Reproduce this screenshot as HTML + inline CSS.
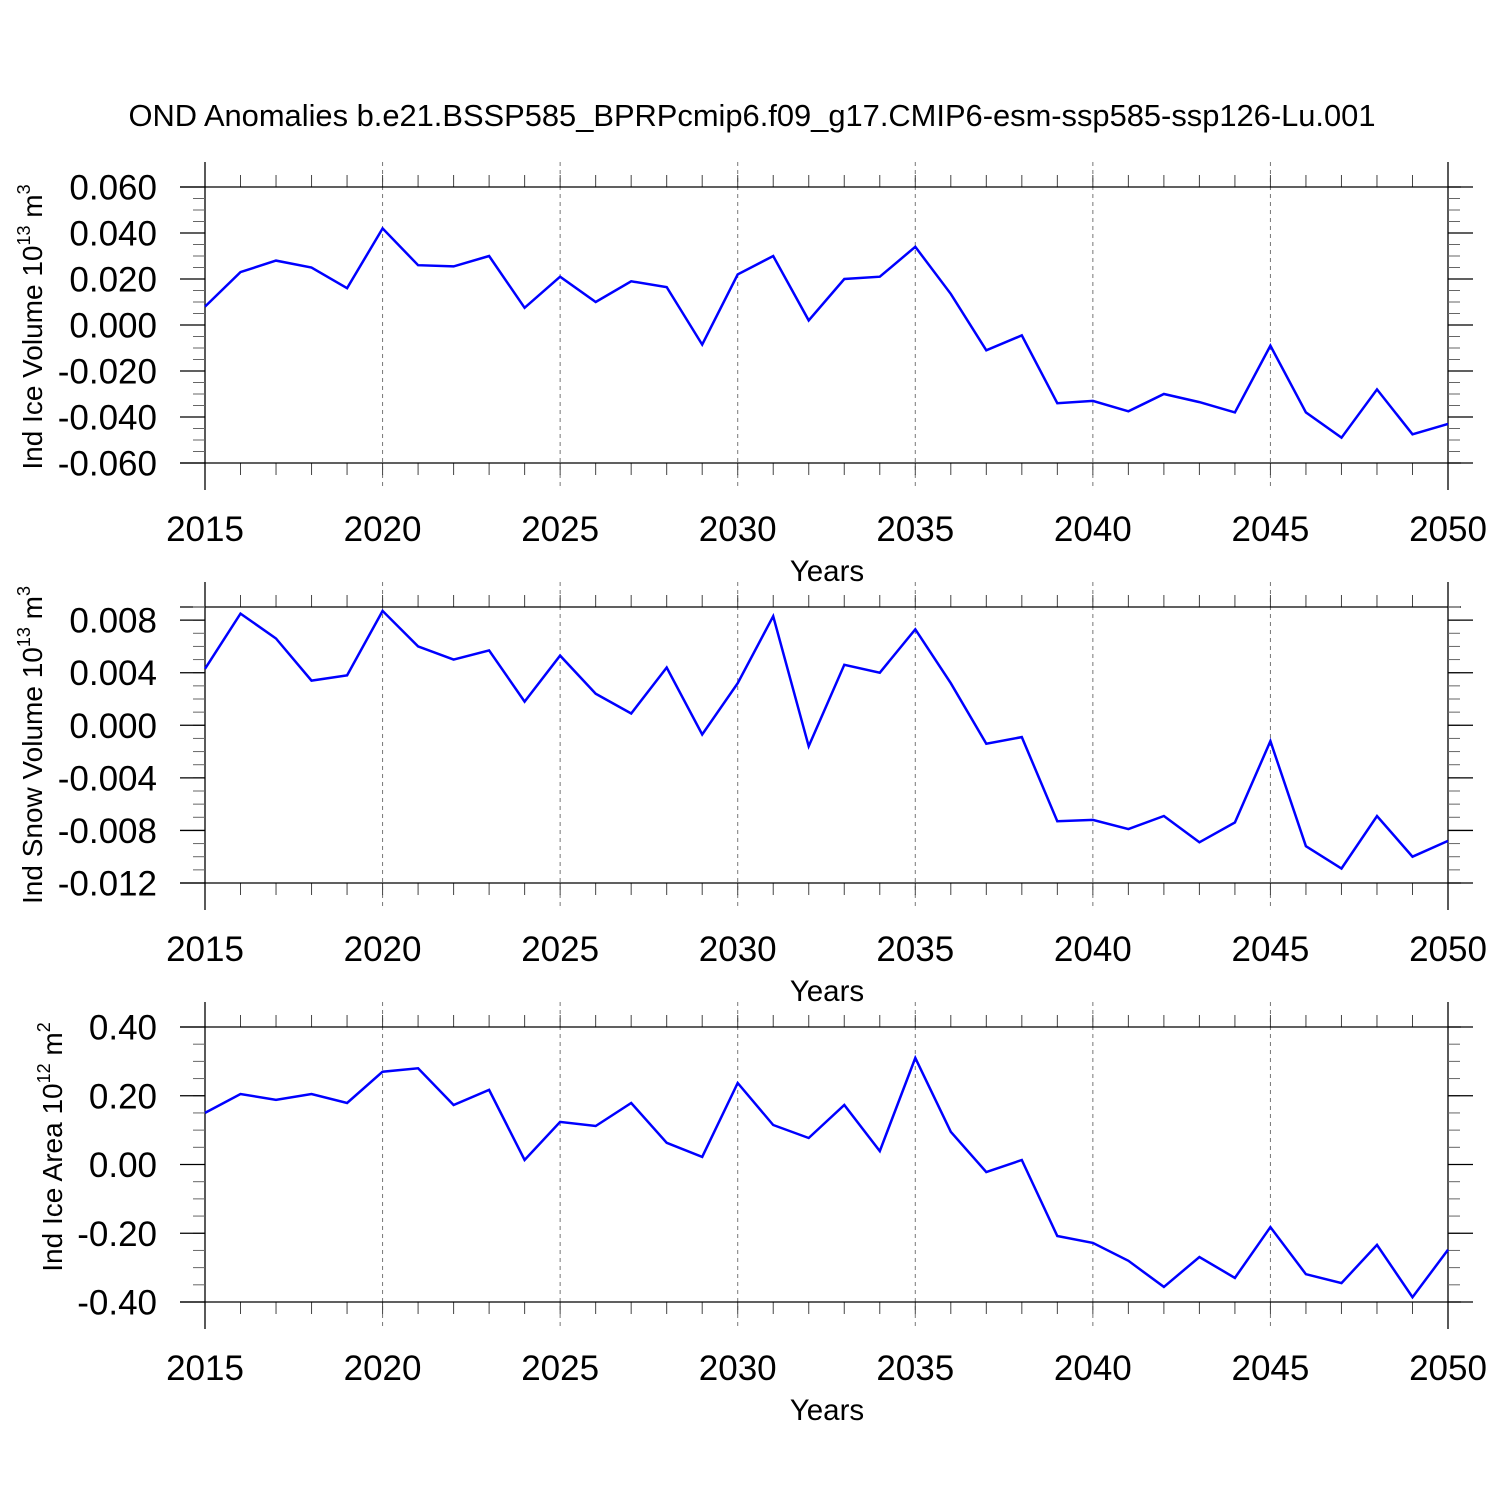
<!DOCTYPE html>
<html><head><meta charset="utf-8"><style>
html,body{margin:0;padding:0;background:#fff}
svg{display:block;font-family:"Liberation Sans",Arial,sans-serif}
</style></head><body>
<svg id="chart" width="1500" height="1500" viewBox="0 0 1500 1500" xmlns="http://www.w3.org/2000/svg">
<rect width="1500" height="1500" fill="#fff"/>
<text x="752" y="126" font-size="31" text-anchor="middle" textLength="1247" lengthAdjust="spacingAndGlyphs">OND Anomalies b.e21.BSSP585_BPRPcmip6.f09_g17.CMIP6-esm-ssp585-ssp126-Lu.001</text>
</svg>
<script>
const years = [];
for (let y = 2015; y <= 2050; y++) years.push(y);
const xTickLabels = ["2015","2020","2025","2030","2035","2040","2045","2050"];
const iceVolume = [0.008,0.023,0.028,0.025,0.016,0.042,0.026,0.0255,0.030,0.0075,0.021,0.010,0.019,0.0165,-0.0085,0.022,0.030,0.002,0.020,0.021,0.034,0.0135,-0.011,-0.0045,-0.034,-0.033,-0.0375,-0.030,-0.0335,-0.038,-0.009,-0.038,-0.049,-0.028,-0.0475,-0.043];
const snowVolume = [0.0043,0.0085,0.0066,0.0034,0.0038,0.0087,0.0060,0.0050,0.0057,0.0018,0.0053,0.0024,0.0009,0.0044,-0.0007,0.0032,0.0083,-0.0016,0.0046,0.0040,0.0073,0.0032,-0.0014,-0.0009,-0.0073,-0.0072,-0.0079,-0.0069,-0.0089,-0.0074,-0.0012,-0.0092,-0.0109,-0.0069,-0.0100,-0.0088];
const iceArea = [0.15,0.205,0.188,0.205,0.179,0.27,0.28,0.173,0.217,0.013,0.124,0.112,0.179,0.063,0.022,0.237,0.115,0.077,0.173,0.039,0.31,0.095,-0.022,0.013,-0.208,-0.228,-0.28,-0.356,-0.269,-0.33,-0.182,-0.319,-0.345,-0.234,-0.386,-0.248];
const iceVolTicks = ["0.060","0.040","0.020","0.000","-0.020","-0.040","-0.060"];
const snowTicks = ["0.008","0.004","0.000","-0.004","-0.008","-0.012"];
const areaTicks = ["0.40","0.20","0.00","-0.20","-0.40"];

const svg = document.getElementById('chart');
const NS = "http://www.w3.org/2000/svg";
function mk(tag, attrs, parent){ const e=document.createElementNS(NS,tag); for(const k in attrs) e.setAttribute(k,attrs[k]); (parent||svg).appendChild(e); return e; }
const X0=205, X1=1448;
function xs(yr){ return X0 + (yr-2015)/(2050-2015)*(X1-X0); }

function panel(p){
  const g = mk('g',{});
  
  
  const ys = v => p.top + (p.ymax - v)/(p.ymax - p.ymin)*(p.bot - p.top);
  for (let yr=2020; yr<2050; yr+=5){
    const l = mk('line',{x1:xs(yr),x2:xs(yr),y1:p.top-25,y2:p.bot+27,stroke:'#777','stroke-width':1,'stroke-dasharray':'4,4'},g);
    
    
  }
  years.forEach(yr=>{
    mk('line',{x1:xs(yr),x2:xs(yr),y1:p.top-12,y2:p.top,stroke:'#444','stroke-width':1},g);
    mk('line',{x1:xs(yr),x2:xs(yr),y1:p.bot,y2:p.bot+12,stroke:'#444','stroke-width':1},g);
  });
  mk('line',{x1:180,x2:1461,y1:p.top,y2:p.top,stroke:'#000','stroke-width':1.3},g);
  mk('line',{x1:180,x2:1461,y1:p.bot,y2:p.bot,stroke:'#000','stroke-width':1.3},g);
  mk('line',{x1:X0,x2:X0,y1:p.top-25,y2:p.bot+27,stroke:'#000','stroke-width':1.3},g);
  mk('line',{x1:X1,x2:X1,y1:p.top-25,y2:p.bot+27,stroke:'#000','stroke-width':1.3},g);
  const nMinor = Math.round((p.ymax-p.ymin)/p.minor);
  for (let i=0;i<=nMinor;i++){
    const v = p.ymin + i*p.minor;
    const y = ys(v);
    mk('line',{x1:X0-12,x2:X0,y1:y,y2:y,stroke:'#666','stroke-width':1},g);
    mk('line',{x1:X1,x2:X1+12,y1:y,y2:y,stroke:'#666','stroke-width':1},g);
  }
  p.ticks.forEach(t=>{
    const v=parseFloat(t), y=ys(v);
    mk('line',{x1:180,x2:X0,y1:y,y2:y,stroke:'#000','stroke-width':1.3},g);
    mk('line',{x1:X1,x2:1473,y1:y,y2:y,stroke:'#000','stroke-width':1.3},g);
    const tx = mk('text',{x:157,y:y+12.5,'font-size':35,'text-anchor':'end'},g);
    tx.textContent=t;
    
    
  });
  xTickLabels.forEach(t=>{
    const tx = mk('text',{x:xs(+t),y:p.bot+78,'font-size':35,'text-anchor':'middle'},g);
    tx.textContent=t;
    
    
  });
  const xt = mk('text',{x:827,y:p.bot+118,'font-size':29.5,'text-anchor':'middle'},g);
  xt.textContent='Years';
  
  
  const yt = mk('text',{x:0,y:0,'font-size':28,'text-anchor':'middle',transform:`translate(${p.ytx},${p.yty}) rotate(-90)`},g);
  
  
  yt.innerHTML = p.ylabel + ' 10<tspan dy="-12" font-size="18">'+p.exp+'</tspan><tspan dy="12"> m</tspan><tspan dy="-12" font-size="18">'+p.unit+'</tspan>';
  const pts = p.data.map((v,i)=>xs(years[i]).toFixed(1)+','+ys(v).toFixed(1)).join(' ');
  const pl = mk('polyline',{points:pts,fill:'none',stroke:'#0000ff','stroke-width':2.5,'stroke-linejoin':'miter'},g);
  
  
}
panel({name:'ice-volume-panel',top:187,bot:463,ymin:-0.06,ymax:0.06,minor:0.005,ticks:iceVolTicks,data:iceVolume,ylabel:'Ind Ice Volume',exp:'13',unit:'3',ytx:42,yty:327});
panel({name:'snow-volume-panel',top:607,bot:883,ymin:-0.012,ymax:0.009,minor:0.001,ticks:snowTicks,data:snowVolume,ylabel:'Ind Snow Volume',exp:'13',unit:'3',ytx:42,yty:745});
panel({name:'ice-area-panel',top:1027,bot:1302,ymin:-0.4,ymax:0.4,minor:0.05,ticks:areaTicks,data:iceArea,ylabel:'Ind Ice Area',exp:'12',unit:'2',ytx:62,yty:1147});
</script>
</body></html>
